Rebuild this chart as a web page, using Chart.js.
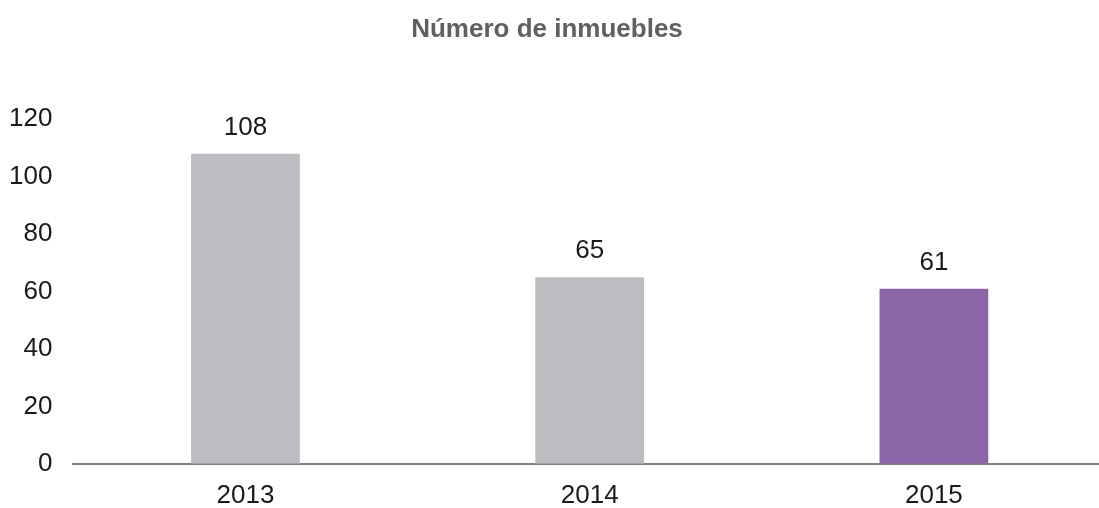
<!DOCTYPE html>
<html>
<head>
<meta charset="utf-8">
<script src="https://cdn.jsdelivr.net/npm/chart.js@4/dist/chart.umd.min.js"></script>
<style>
  html, body { margin: 0; padding: 0; background: #fff; overflow: hidden; }
  #wrap { width: 1099px; height: 508px; overflow: hidden; }
  #wrap div { width: 1106px; height: 508px; position: relative; }
</style>
</head>
<body>
<div id="wrap"><div><canvas id="chart"></canvas></div></div>
<script>
const years = ['2013', '2014', '2015'];
const inmuebles = [108, 65, 61];
const barColors = ['#bcbdc0', '#bcbdc0', '#8c64a8'];

const FONT = '"Liberation Sans", Arial, sans-serif';

// writes the value above each bar
const valueLabels = {
  id: 'valueLabels',
  afterDatasetsDraw(chart) {
    const ctx = chart.ctx;
    const meta = chart.getDatasetMeta(0);
    ctx.save();
    ctx.font = '26px ' + FONT;
    ctx.fillStyle = '#1a1a1a';
    ctx.textAlign = 'center';
    ctx.textBaseline = 'middle';
    meta.data.forEach((bar, i) => {
      ctx.fillText(inmuebles[i], bar.x, bar.y - 26);
    });
    ctx.restore();
  }
};

const ctx = document.getElementById('chart');
new Chart(ctx, {
  type: 'bar',
  data: {
    labels: years,
    datasets: [{
      data: inmuebles,
      backgroundColor: barColors,
      borderWidth: 0,
      categoryPercentage: 1,
      barPercentage: 0.316
    }]
  },
  options: {
    responsive: true,
    maintainAspectRatio: false,
    animation: false,
    layout: { padding: { top: 10, left: -12, right: 0, bottom: -19 } },
    plugins: {
      legend: { display: false },
      tooltip: { enabled: false },
      title: {
        display: true,
        text: 'Número de inmuebles',
        color: '#5f6062',
        font: { family: FONT, size: 26, weight: 'bold' },
        padding: { top: 4, bottom: 74 }
      }
    },
    scales: {
      x: {
        grid: { display: false, drawTicks: false },
        border: { display: true, color: '#808080', width: 2 },
        ticks: {
          color: '#1a1a1a',
          padding: 16,
          font: { family: FONT, size: 26 }
        }
      },
      y: {
        min: 0,
        max: 120,
        grid: { display: false, drawTicks: false },
        border: { display: false },
        ticks: {
          stepSize: 20,
          color: '#1a1a1a',
          padding: 21,
          font: { family: FONT, size: 26 }
        }
      }
    }
  },
  plugins: [valueLabels]
});
</script>
</body>
</html>
